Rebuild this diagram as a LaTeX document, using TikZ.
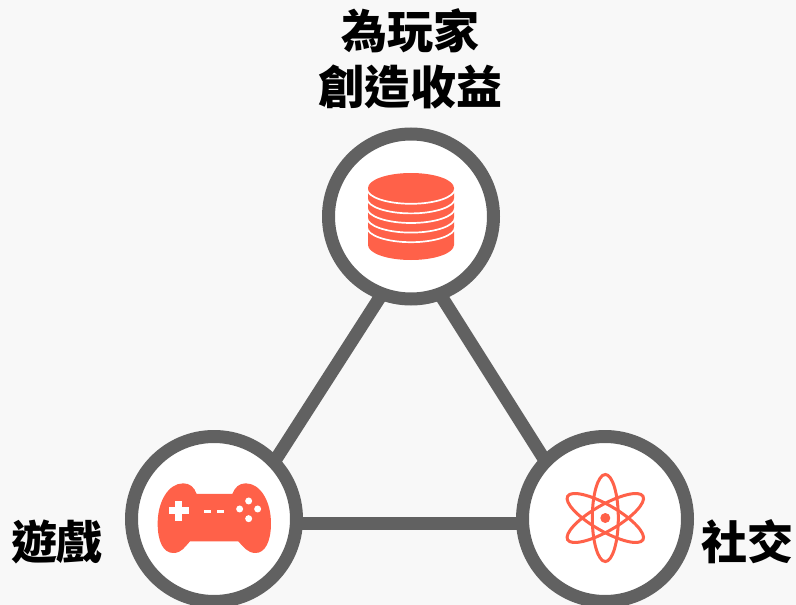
\documentclass[tikz,border=0pt]{standalone}
\usepackage{fontspec}
\newfontfamily\cjk{Noto Sans CJK TC}[BoldFont={Noto Sans CJK TC Black}]
\definecolor{ringc}{HTML}{616161}
\definecolor{iconc}{HTML}{FF6149}
\definecolor{bgc}{HTML}{F8F8F8}
\begin{document}
\begin{tikzpicture}[x=1pt,y=-1pt,
  hub/.style={circle,draw=ringc,line width=13pt,fill=white,minimum size=165pt,inner sep=0pt,outer sep=0pt},
  link/.style={draw=ringc,line width=13pt},
  lab/.style={font=\cjk\bfseries\fontsize{46}{56}\selectfont,text=black,align=center,inner sep=0pt}]
\fill[bgc] (0,0) rectangle (796,605);
\useasboundingbox (0,0) rectangle (796,605);
% connector ends
\coordinate (tl) at (391,280);
\coordinate (bl) at (269,470);
\coordinate (tr) at (431,280);
\coordinate (br) at (551,470);
\coordinate (hl) at (260,523);
\coordinate (hr) at (560,523);
\draw[link] (tl) -- (bl);
\draw[link] (tr) -- (br);
\draw[link] (hl) -- (hr);
\node[hub] (top) at (411,216.5) {};
\node[hub] (left) at (214,519) {};
\node[hub] (right) at (605,519) {};
% coins
\fill[iconc] (368,188) -- (368,245) arc[x radius=43,y radius=15,start angle=180,end angle=0] -- (454,188) -- cycle;
\fill[iconc] (411,188) ellipse[x radius=43,y radius=15];
\foreach \i in {0,1,2,3,4}
  \draw[white,line width=1.7pt] (367,188.8+9.6*\i) arc[x radius=44,y radius=15,start angle=180,end angle=0];
% gamepad
\begin{scope}[shift={(125,430)},x=0.3333pt,y=-0.3333pt]
\fill[iconc] (98,280) .. controls (98,215) and (130,160) .. (175,160)
  .. controls (195,160) and (208,172) .. (215,192) -- (322,192)
  .. controls (330,172) and (342,160) .. (362,160)
  .. controls (407,160) and (438,215) .. (438,280)
  .. controls (438,335) and (420,369) .. (392,369)
  .. controls (367,369) and (355,350) .. (340,334) -- (195,334)
  .. controls (180,350) and (170,369) .. (145,369)
  .. controls (115,369) and (98,335) .. (98,280) -- cycle;
\fill[white] (151,212) rectangle (171,272);
\fill[white] (131,232) rectangle (191,252);
\fill[white] (237,239) rectangle (258,249);
\fill[white] (275,239) rectangle (296,249);
\foreach \p/\q in {371/213,344/237,398/237,371/266}
  \fill[white] (\p,\q) circle[radius=10.5];
\end{scope}
% atom
\foreach \a in {90,30,-30}
  \draw[iconc,line width=3pt,rotate around={\a:(605.3,518)}] (605.3,518) ellipse[x radius=43.5,y radius=13];
\fill[iconc] (605.3,518) circle[radius=5];
% labels
\node[lab] (t1) at (410,59) {為玩家\\創造收益};
\node[lab] (t2) at (57,542) {遊戲};
\node[lab] (t3) at (747,542) {社交};
\end{tikzpicture}
\end{document}
